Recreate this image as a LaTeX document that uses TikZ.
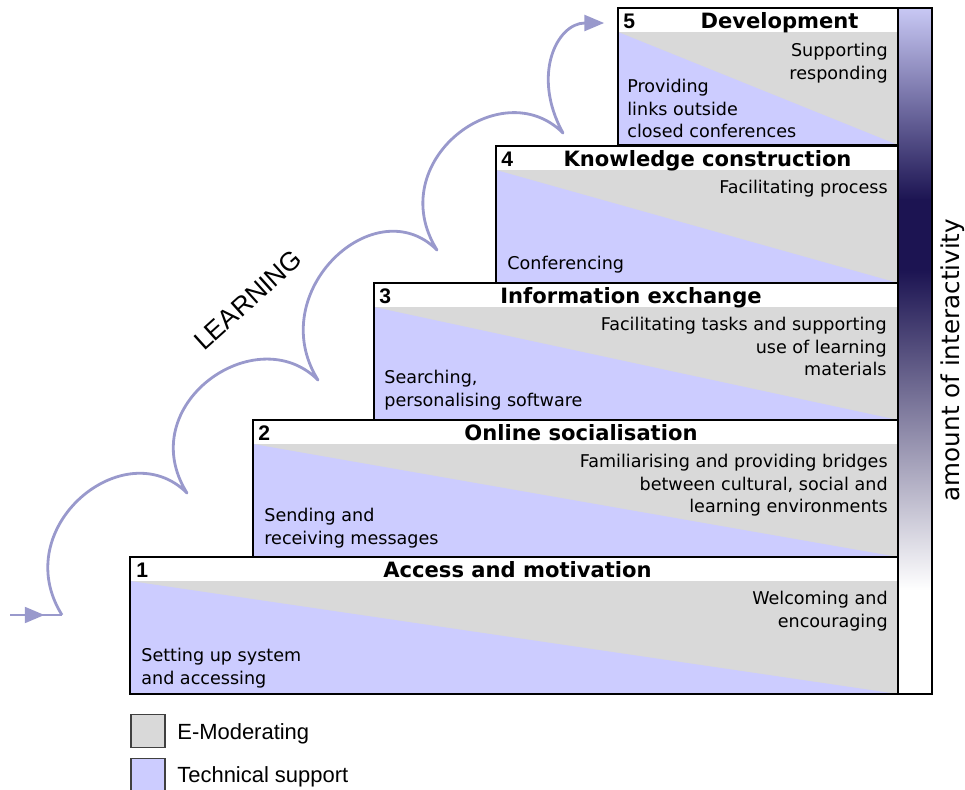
\documentclass[tikz,border=0pt]{standalone}
\usepackage{fontspec}
\setmainfont{DejaVu Sans}
\newfontfamily\arialfont{Liberation Sans}
\usetikzlibrary{arrows, decorations.markings}
\definecolor{emodgrey}{RGB}{217,217,217}
\definecolor{techblue}{RGB}{204,204,255}
\definecolor{learnline}{RGB}{153,153,204}
\definecolor{barlav}{RGB}{200,200,244}
\definecolor{barnavy}{RGB}{28,20,82}
\definecolor{legborder}{RGB}{64,64,64}
\newcommand{\drawb}{\draw[line width=1pt]}
% one step of the stairs: #1 = left edge, #2 = top edge
\newcommand{\drawstage}[2]{%
  \fill[white] (#1,#2) rectangle (898,#2+137);
  \fill[emodgrey] (#1,#2+24) rectangle (898,#2+137);
  \fill[techblue] (#1,#2+24) -- (898,#2+137) -- (#1,#2+137) -- cycle;
  \drawb (#1,#2) rectangle (898,#2+137);}

\begin{document}
\begin{tikzpicture}[x=0.02cm, y=-0.02cm, >=triangle 45,
  head/.style={font=\fontsize{12}{14}\selectfont\bfseries, inner sep=0pt, anchor=base},
  num/.style={font=\arialfont\fontsize{12}{14}\selectfont\bfseries, inner sep=0pt, anchor=base west},
  txt/.style={font=\fontsize{10}{12.8}\selectfont, inner sep=0pt},
  legtxt/.style={font=\arialfont\fontsize{12.5}{14}\selectfont, inner sep=0pt, anchor=base west},
  legbox/.style={draw=legborder, line width=1pt, minimum width=0.68cm, minimum height=0.66cm, inner sep=0pt},
  learn/.style={draw=learnline, line width=1.6pt, line join=round}]
\useasboundingbox (0,0) rectangle (965,789);
\clip (0,0) rectangle (965,789);

% Vẽ các bậc thang
\drawstage{618}{8}
\drawstage{496}{146}
\drawstage{374}{283}
\drawstage{253}{420}
\drawstage{130}{557}

% thanh mức độ tương tác
\shade[top color=barlav, bottom color=barnavy] (898,8) rectangle (932,200);
\fill[barnavy] (898,199) rectangle (932,271);
\shade[top color=barnavy, bottom color=white] (898,270) rectangle (932,590);
\drawb (898,8) rectangle (932,694);
\node[font=\fontsize{14}{16}\selectfont, rotate=90] (amt) at (953,360) {amount of interactivity};

% bậc 5
\node[num] (n5) at (623,28.5) {5};
\node[head] (h5) at (779.5,28.5) {Development};
\node[txt, anchor=north east, align=right] (r5) at (888,43) {Supporting\\responding};
\node[txt, anchor=north west, align=left] (l5) at (627,79) {Providing\\links outside\\closed conferences};

% bậc 4
\node[num] (n4) at (501,166.5) {4};
\node[head] (h4) at (707.5,166.5) {Knowledge construction};
\node[txt, anchor=north east, align=right] (r4) at (888,180) {Facilitating process};
\node[txt, anchor=north west, align=left] (l4) at (507,256) {Conferencing};

% bậc 3
\node[num] (n3) at (379,303.5) {3};
\node[head] (h3) at (631,303.5) {Information exchange};
\node[txt, anchor=north east, align=right] (r3) at (887,317) {Facilitating tasks and supporting\\use of learning\\materials};
\node[txt, anchor=north west, align=left] (l3) at (384,370) {Searching,\\personalising software};

% bậc 2
\node[num] (n2) at (258,440.5) {2};
\node[head] (h2) at (581,440.5) {Online socialisation};
\node[txt, anchor=north east, align=right] (r2) at (888,454) {Familiarising and providing bridges\\between cultural, social and\\learning environments};
\node[txt, anchor=north west, align=left] (l2) at (264,508) {Sending and\\receiving messages};

% bậc 1
\node[num] (n1) at (136,577.5) {1};
\node[head] (h1) at (517.5,577.5) {Access and motivation};
\node[txt, anchor=north east, align=right] (r1) at (888,591) {Welcoming and\\encouraging};
\node[txt, anchor=north west, align=left] (l1) at (141,648) {Setting up system\\and accessing};

% đường học tập
\coordinate (tail) at (10,615);
\coordinate (c0) at (62,615);
\coordinate (c1) at (187,493);
\coordinate (c2) at (318,380);
\coordinate (c3) at (437,250);
\coordinate (c4) at (563,133);
\coordinate (top) at (585,23);
\coordinate (tip) at (604,23);
\draw[learn, postaction={decorate}, decoration={markings, mark=at position 0.66 with {\arrow{>}}}] (tail) -- (c0);
\draw[learn, ->] (c0) .. controls +(-55,-88) and +(-62,-62) .. (c1)
  .. controls +(-55,-88) and +(-62,-62) .. (c2)
  .. controls +(-55,-88) and +(-62,-62) .. (c3)
  .. controls +(-55,-88) and +(-62,-62) .. (c4)
  .. controls +(-32,-58) and +(-28,0) .. (top) -- (tip);
\node[font=\arialfont\fontsize{15}{17}\selectfont, rotate=42] (lrn) at (248,300) {LEARNING};

% chú thích
\node[legbox, fill=emodgrey] (k1) at (148,731) {};
\node[legtxt] (lg1) at (177,739) {E-Moderating};
\node[legbox, fill=techblue] (k2) at (148,775) {};
\node[legtxt] (lg2) at (177,782) {Technical support};

\end{tikzpicture}
\end{document}
